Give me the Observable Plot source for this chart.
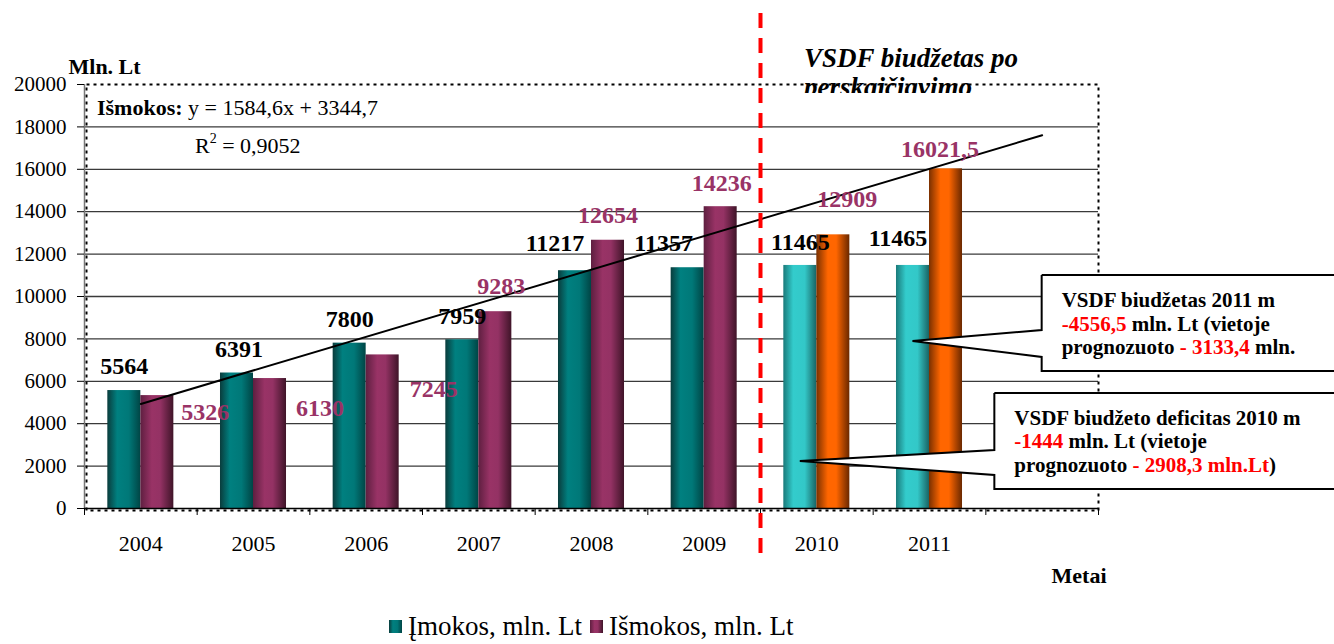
<!DOCTYPE html>
<html>
<head>
<meta charset="utf-8">
<script src="https://cdn.jsdelivr.net/npm/d3@7"></script>
<script src="https://cdn.jsdelivr.net/npm/@observablehq/plot@0.6"></script>
<style>
  html, body { margin: 0; padding: 0; background: #fff; }
  body { width: 1334px; height: 644px; overflow: hidden; position: relative;
         font-family: "Liberation Serif", "Times New Roman", serif; }
  #chart { position: absolute; left: 0; top: 0; }
  #legend { position: absolute; left: 389px; top: 600px; height: 44px;
            display: flex; justify-content: flex-start; align-items: flex-start; padding-top: 13px; box-sizing: border-box;
            font-size: 27px; line-height: 27px; color: #000; }
  #legend .item { display: flex; align-items: center; margin: 0 8px 0 0; }
  #legend .sw { width: 13px; height: 13px; margin-right: 6px; }
</style>
</head>
<body>
<div id="chart"></div>
<div id="legend"></div>
<script>
// ---------- data ----------
const years = ["2004", "2005", "2006", "2007", "2008", "2009", "2010", "2011"];
const imokos = [5564, 6391, 7800, 7959, 11217, 11357, 11465, 11465];
const ismokos = [5326, 6130, 7245, 9283, 12654, 14236, 12909, 16021.5];
const imokosLabels = ["5564", "6391", "7800", "7959", "11217", "11357", "11465", "11465"];
const ismokosLabels = ["5326", "6130", "7245", "9283", "12654", "14236", "12909", "16021,5"];
const forecastYears = ["2010", "2011"];
const yTicks = [0, 2000, 4000, 6000, 8000, 10000, 12000, 14000, 16000, 18000, 20000];
const seriesNames = ["Įmokos, mln. Lt", "Išmokos, mln. Lt"];
const yTitle = "Mln. Lt";
const xTitle = "Metai";
const titleLines = ["VSDF biudžetas po", "perskaičiavimo"];
const trendName = "Išmokos:";
const trendEq = " y = 1584,6x + 3344,7";
const trendR2 = "0,9052";
const callout2011 = [
  [["VSDF biudžetas 2011 m", "#000"]],
  [["-4556,5", "#ff0000"], [" mln. Lt (vietoje", "#000"]],
  [["prognozuoto ", "#000"], ["- 3133,4", "#ff0000"], [" mln.", "#000"]]
];
const callout2010 = [
  [["VSDF biudžeto deficitas 2010 m", "#000"]],
  [["-1444", "#ff0000"], [" mln. Lt (vietoje", "#000"]],
  [["prognozuoto ", "#000"], ["- 2908,3 mln.Lt", "#ff0000"], [")", "#000"]]
];

// ---------- derived table ----------
const rows = years.map((year, k) => ({
  i: k + 1, year, imok: imokos[k], ism: ismokos[k], forecast: forecastYears.includes(year)
}));

// linear regression of Išmokos on period index (Excel-style trendline, 1 period forward)
const n = ismokos.length;
const mx = d3.mean(rows, d => d.i), my = d3.mean(ismokos);
const slope = d3.sum(rows, d => (d.i - mx) * (d.ism - my)) / d3.sum(rows, d => (d.i - mx) ** 2);
const intercept = my - slope * mx;
const trend = [1, n + 1].map(x => ({x, y: intercept + slope * x}));

// ---------- styling ----------
const W = 0.293; // bar width in category units
const FONT = "Liberation Serif, Times New Roman, serif";
const imDx = [0, 2, 0, 0, -20, -24, 0, -15];
const imDy = [-24, -24, -24, -23, -27, -24, -23, -27];
const isDx = [48, 50, 51, 6, 0, 1, 14, -6];
const isDy = [17, 30, 34, -25, -25, -23, -36, -20];

function gradients() {
  const g = d3.create("svg:g");
  const defs = g.append("defs");
  const mk = (id, stops) => {
    const lg = defs.append("linearGradient").attr("id", id).attr("x1", 0).attr("x2", 1).attr("y1", 0).attr("y2", 0);
    stops.forEach(([o, c]) => lg.append("stop").attr("offset", o).attr("stop-color", c));
  };
  mk("gTeal", [[0, "#0a3c3c"], [0.3, "#008080"], [0.65, "#007878"], [1, "#004545"]]);
  mk("gPurple", [[0, "#5e1f40"], [0.35, "#993366"], [0.6, "#943264"], [1, "#3f1428"]]);
  mk("gCyan", [[0, "#1a7a7a"], [0.3, "#33cccc"], [0.65, "#33c8c8"], [1, "#1a6464"]]);
  mk("gOrange", [[0, "#7a3000"], [0.35, "#ff6600"], [0.6, "#ff6600"], [1, "#6a2800"]]);
  return g.node();
}

function titleMark(index, scales, values, dim) {
  const g = d3.create("svg:g");
  const top = dim.marginTop;
  g.append("clipPath").attr("id", "titleClip")
    .append("rect").attr("x", 0).attr("y", 0).attr("width", dim.width).attr("height", top + 9);
  const x0 = scales.x(6.5) + 44;
  const t = g.append("text").attr("clip-path", "url(#titleClip)").attr("text-anchor", "start")
    .attr("font-family", FONT).attr("font-size", 27).attr("font-weight", "bold").attr("font-style", "italic").attr("fill", "#000");
  t.append("tspan").attr("x", x0).attr("y", top - 17).text(titleLines[0]);
  t.append("tspan").attr("x", x0).attr("y", top + 12).text(titleLines[1]);
  return g.node();
}

function trendTextMark(index, scales, values, dim) {
  const g = d3.create("svg:g").attr("font-family", FONT).attr("font-size", 22).attr("fill", "#000").attr("text-anchor", "start");
  const x0 = scales.x(0.5) + 13;
  const t1 = g.append("text").attr("x", x0).attr("y", dim.marginTop + 31);
  t1.append("tspan").attr("font-weight", "bold").text(trendName);
  t1.append("tspan").text(trendEq);
  const t2 = g.append("text").attr("x", x0 + 98).attr("y", dim.marginTop + 69);
  t2.append("tspan").text("R");
  t2.append("tspan").attr("font-size", 14).attr("dy", -10).text("2");
  t2.append("tspan").attr("dy", 10).text(" = " + trendR2);
  return g.node();
}

// callout geometry in data units (category index / value)
const callouts = [
  {lines: callout2011, tipX: 8 - W / 2, tipY: 7877, left: 9.0, top: 10990, bottom: 6462, attach: [8396, 7123]},
  {lines: callout2010, tipX: 7 - W / 2, tipY: 2217, left: 8.58, top: 5425, bottom: 896, attach: [2736, 1557]}
];

function calloutMark(index, scales, values, dim) {
  const {x, y} = scales;
  const g = d3.create("svg:g");
  const right = dim.width + 10;
  for (const c of callouts) {
    const L = x(c.left), T = y(c.top), B = y(c.bottom);
    const pts = [[L, T], [right, T], [right, B], [L, B], [L, y(c.attach[1])], [x(c.tipX), y(c.tipY)], [L, y(c.attach[0])], [L, T]];
    g.append("path").attr("d", d3.line()(pts)).attr("fill", "#fff").attr("stroke", "#000").attr("stroke-width", 2).attr("stroke-linejoin", "miter");
    const t = g.append("text").attr("font-family", FONT).attr("font-size", 21).attr("font-weight", "bold").attr("text-anchor", "start");
    c.lines.forEach((line, li) => {
      line.forEach(([s, col], si) => {
        const ts = t.append("tspan").attr("fill", col).text(s);
        if (si === 0) ts.attr("x", L + 20).attr("y", T + 32 + li * 23.5);
      });
    });
  }
  return g.node();
}

const labelMarks = [];
rows.forEach((d, k) => {
  labelMarks.push(Plot.text([d], {x: d.i - W / 2, y: "imok", text: () => imokosLabels[k], dx: imDx[k], dy: imDy[k],
    fill: "#000", fontWeight: "bold", fontSize: 24}));
  labelMarks.push(Plot.text([d], {x: d.i + W / 2, y: "ism", text: () => ismokosLabels[k], dx: isDx[k], dy: isDy[k],
    fill: "#993366", fontWeight: "bold", fontSize: 24}));
});

const boundaries = d3.range(0.5, 9.51, 1);

const chart = Plot.plot({
  width: 1334,
  height: 600,
  marginLeft: 84,
  marginRight: 236,
  marginTop: 84,
  marginBottom: 92,
  style: {fontFamily: FONT, fontSize: "21px", background: "transparent", color: "#000", overflow: "visible"},
  x: {domain: [0.5, 9.5]},
  y: {domain: [0, 20000]},
  marks: [
    gradients,
    Plot.ruleY(yTicks.filter(v => v > 0 && v < 20000), {stroke: "#3a3a3a", strokeWidth: 1.3}),
    Plot.rect(rows, {filter: d => !d.forecast, x1: d => d.i - W, x2: d => d.i, y1: 0, y2: "imok", fill: "url(#gTeal)"}),
    Plot.rect(rows, {filter: d => d.forecast, x1: d => d.i - W, x2: d => d.i, y1: 0, y2: "imok", fill: "url(#gCyan)"}),
    Plot.rect(rows, {filter: d => !d.forecast, x1: d => d.i, x2: d => d.i + W, y1: 0, y2: "ism", fill: "url(#gPurple)"}),
    Plot.rect(rows, {filter: d => d.forecast, x1: d => d.i, x2: d => d.i + W, y1: 0, y2: "ism", fill: "url(#gOrange)"}),
    Plot.frame({stroke: "#000", strokeWidth: 2, strokeDasharray: "3,4", insetLeft: 2, insetBottom: -2}),
    Plot.ruleX([0.5], {stroke: "#777", strokeWidth: 1.5}),
    Plot.ruleY([0], {stroke: "#000", strokeWidth: 1.5}),
    Plot.axisY(yTicks, {tickSize: 7, tickPadding: 11, tickFormat: d3.format("d"), fontSize: 21, label: null, stroke: "#000"}),
    Plot.axisX(rows.map(d => d.i), {tickSize: 0, tickPadding: 27, tickFormat: i => years[i - 1], fontSize: 22, label: null}),
    Plot.axisX(boundaries, {tickSize: 7, tickFormat: () => "", label: null, stroke: "#000"}),
    Plot.line(trend, {x: "x", y: "y", stroke: "#000", strokeWidth: 2}),
    ...labelMarks,
    Plot.ruleX([6.5], {stroke: "#ff0000", strokeWidth: 4, strokeDasharray: "15,10", insetTop: -71, insetBottom: -50}),
    Plot.text([yTitle], {frameAnchor: "top-left", dx: -16, dy: -11, fontWeight: "bold", fontSize: 22, textAnchor: "start", lineAnchor: "bottom"}),
    Plot.text([xTitle], {frameAnchor: "bottom-right", dx: 8, dy: 74, fontWeight: "bold", fontSize: 22, textAnchor: "end", lineAnchor: "bottom"}),
    titleMark,
    trendTextMark,
    calloutMark
  ]
});
document.getElementById("chart").appendChild(chart);

// legend
const swatches = ["linear-gradient(to right,#0a3c3c,#008080 30%,#007878 65%,#004545)",
                  "linear-gradient(to right,#5e1f40,#993366 35%,#943264 60%,#3f1428)"];
const leg = d3.select("#legend");
seriesNames.forEach((name, k) => {
  const it = leg.append("div").attr("class", "item");
  it.append("div").attr("class", "sw").style("background", swatches[k]);
  it.append("span").text(name);
});
</script>
</body>
</html>
